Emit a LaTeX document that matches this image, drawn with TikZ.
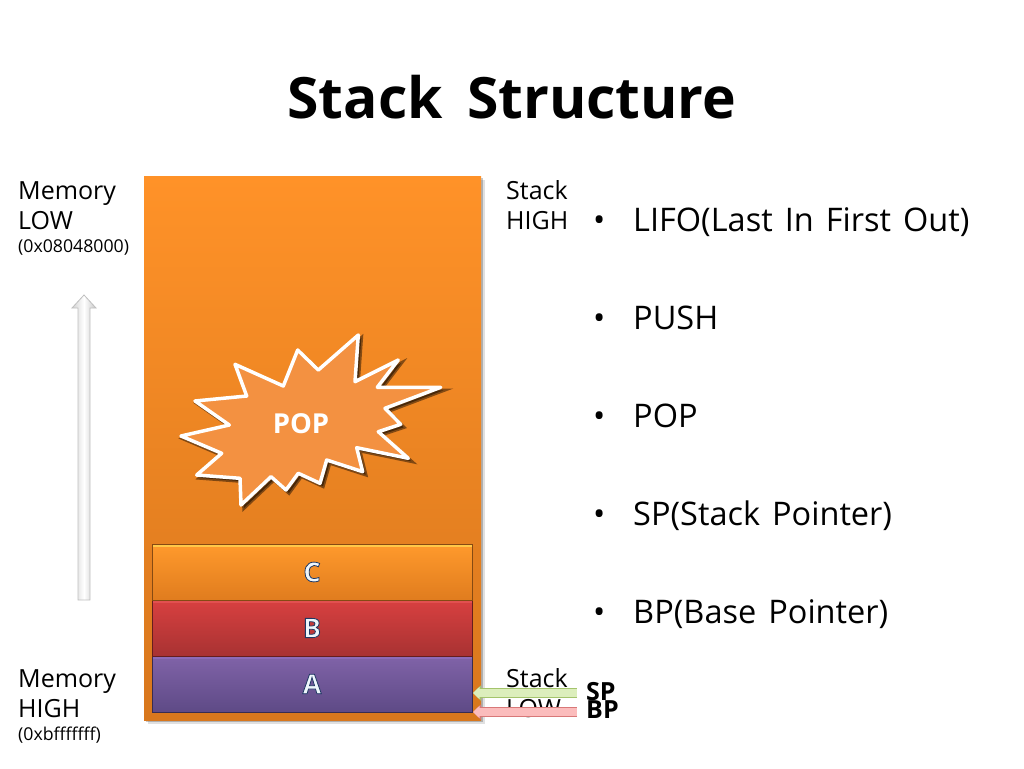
\documentclass[tikz,border=0pt]{standalone}
\usepackage{fontspec}
\setmainfont{Open Sans}
\usetikzlibrary{positioning,shadows,arrows.meta}
\definecolor{stacktop}{HTML}{FF9228}
\definecolor{stackbot}{HTML}{D8771D}
\definecolor{burstfill}{HTML}{F39141}
\definecolor{lettfill}{HTML}{EEF6FC}
\definecolor{atop}{HTML}{8063A8}
\definecolor{abot}{HTML}{5E4A86}
\definecolor{ahi}{HTML}{8C6BB8}
\definecolor{btop}{HTML}{D84040}
\definecolor{bbot}{HTML}{A83232}
\definecolor{bhi}{HTML}{E25050}
\definecolor{ctop}{HTML}{FF9A2C}
\definecolor{cbot}{HTML}{E07C1E}
\definecolor{chi}{HTML}{FFC848}
\definecolor{spline}{HTML}{A4C46C}
\definecolor{spfill}{HTML}{DCEEBC}
\definecolor{bpline}{HTML}{D87878}
\definecolor{bpfill}{HTML}{FBBCBC}
\newcommand{\fsz}[1]{\fontsize{#1}{#1}\selectfont}
\newcommand{\lett}[1]{\raisebox{-3pt}{\textcolor{lettfill}{\special{pdf:code 2 Tr 0.8 w 0.12 0.22 0.39 RG}#1\special{pdf:code 0 Tr 1 w}}}}
\newcommand{\gap}{\kern.11em}
\tikzset{
  txt/.style={inner sep=0,font=\fontsize{25}{30}\selectfont,align=left,anchor=north west},
  listitem/.style={inner sep=0,font=\fsz{32.5},anchor=base west},
  tag/.style={inner sep=0,font=\fsz{25}\bfseries,anchor=west},
  softshadow/.style={drop shadow={shadow xshift=4pt,shadow yshift=-4pt,opacity=.12,fill=black},
    drop shadow={shadow xshift=2pt,shadow yshift=-2pt,opacity=.22,fill=black}},
  burstshadow/.style={drop shadow={shadow xshift=3pt,shadow yshift=-3pt,opacity=.45,fill=black,draw=black,line width=3.5pt}},
  stackblock/.style n args={3}{minimum width=320pt,minimum height=56pt,inner sep=0,outer sep=0,
    top color=#1,bottom color=#2,draw=#2!60!black,line width=1pt,font=\fsz{27}\bfseries,
    path picture={\fill[#3] (path picture bounding box.north west) rectangle
      ([yshift=-3pt]path picture bounding box.north east);}},
  ptrarrow/.style n args={2}{preaction={draw=#1,line width=10pt,-{Triangle[length=8pt,width=15pt]}},
    draw=#2,line width=8pt,-{Triangle[length=6.5pt,width=12pt]},shorten >=1pt}
}
\begin{document}
\begin{tikzpicture}[x=1pt,y=-1pt]
\useasboundingbox (0,0) rectangle (1024,768);
\node[inner sep=0,font=\fsz{57}\bfseries] (title) at (512,97) {Stack\, Structure};

\node[txt] (memlow) at (18,181) {Memory\\LOW\\[-7pt]{\fsz{17.7}(0x08048000)}};
\node[txt] (memhigh) at (18,669) {Memory\\HIGH\\[-7pt]{\fsz{17.7}(0xbfffffff)}};
\node[txt] (stackhigh) at (506,180) {Stack\\HIGH};
\node[txt] (stacklow) at (506,668) {Stack\\LOW};

% address direction
\draw[gray!50,line width=.8pt,left color=gray!35,right color=gray!45,middle color=white]
  (84,295)--(96,308)--(90,308)--(90,600)--(78,600)--(78,308)--(72,308)--cycle;

\node[minimum width=337pt,minimum height=544pt,inner sep=0,top color=stacktop,bottom color=stackbot,softshadow]
  (stack) at (312.5,448) {};

\node[stackblock={atop}{abot}{ahi}] (blocka) at (312,684) {\lett{A}};
\node[stackblock={btop}{bbot}{bhi},above=0pt of blocka] (blockb) {\lett{B}};
\node[stackblock={ctop}{cbot}{chi},above=0pt of blockb] (blockc) {\lett{C}};

\filldraw[draw=white,line width=3.5pt,line join=round,fill=burstfill,burstshadow]
  (358.3,335)--(355,381.7)--(398.3,360)--(377.3,387.3)--(440.7,387.3)--(385,408.3)--(400.7,424.3)
  --(378.3,431.7)--(408.3,458.3)--(356.7,447.7)--(362.7,471.7)--(326.7,460)--(320,483.3)--(298.3,473.3)
  --(286,490)--(271,476.7)--(241,505)--(240,478.3)--(196.7,475)--(221.7,453.3)--(181,436)--(229.3,425)
  --(195,401)--(246.7,396)--(235,364.3)--(283.3,386)--(297.7,350)--(318.3,370)--cycle;
\node[inner sep=0,text=white,font=\fsz{27.5}\bfseries] (pop) at (301,424) {POP};

\foreach \y/\t/\n in {231/{LIFO(Last\gap{} In\gap{} First\gap{} Out)}/lifo,329/PUSH/push,427/POP/popitem,
  525/{SP(Stack\gap{} Pointer)}/spitem,623/{BP(Base\gap{} Pointer)}/bpitem}
{
  \node[listitem] (b\n) at (593,\y) {•};
  \node[listitem] (\n) at (633,\y) {\t};
}

\node[tag] (sp) at (586,692) {SP};
\node[tag] (bp) at (586,710) {BP};
\coordinate (sptail) at (577,693);
\coordinate (bptail) at (577,712);
\draw[ptrarrow={spline}{spfill}] (sptail) -- (sptail -| blocka.east);
\draw[ptrarrow={bpline}{bpfill}] (bptail) -- (bptail -| blocka.east);
\end{tikzpicture}
\end{document}
